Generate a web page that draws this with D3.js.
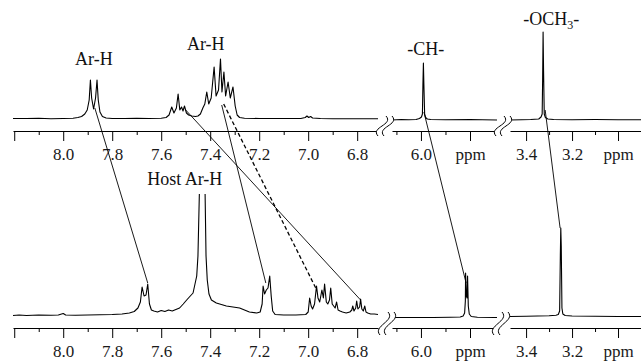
<!DOCTYPE html>
<html>
<head>
<meta charset="utf-8">
<script src="https://cdn.jsdelivr.net/npm/d3@7"></script>
<style>
  html, body { margin: 0; padding: 0; background: #fff; }
  svg { display: block; }
  svg text { font-family: "Liberation Serif", "Times New Roman", serif; }
</style>
</head>
<body>
<svg id="chart" width="641" height="363"></svg>
<script>
// ppm windows of the three broken-axis segments
const segDomains = [[8.205, 6.715], [6.118, 5.69], [3.47, 2.9]];

// tick values / labels per segment
const majorTicks = [[8.2, 8.0, 7.8, 7.6, 7.4, 7.2, 7.0, 6.8], [6.0, 5.8], [3.4, 3.2, 3.0]];
const minorTicks = [[8.1, 7.9, 7.7, 7.5, 7.3, 7.1, 6.9], [6.1, 5.9], [3.3, 3.1, 2.9]];
const tickLabels = [
  ["", "8.0", "7.8", "7.6", "7.4", "7.2", "7.0", "6.8"],
  ["6.0", "ppm"],
  ["3.4", "3.2", "ppm"]
];

// top spectrum (guest alone): [ppm, intensity]
const topSeg1 = [
  [8.205, 1.5], [8.15, 1.5], [8.10, 1.8], [8.05, 1.3], [8.0, 1.5], [7.96, 1.8], [7.94, 2.5], [7.925, 3.5],
  [7.912, 6], [7.902, 10], [7.894, 20], [7.889, 40], [7.884, 22], [7.876, 11], [7.868, 22], [7.862, 40],
  [7.857, 20], [7.85, 8], [7.84, 3.5], [7.825, 2], [7.80, 1.5], [7.75, 1.5], [7.70, 1.8], [7.65, 1.5],
  [7.60, 1.8], [7.58, 2.5], [7.568, 5], [7.557, 13], [7.548, 7], [7.538, 12], [7.531, 26], [7.524, 10],
  [7.517, 13], [7.511, 9], [7.505, 14], [7.497, 7], [7.488, 5], [7.475, 4], [7.46, 3.5], [7.45, 4],
  [7.44, 6], [7.43, 12], [7.422, 16], [7.414, 28], [7.406, 16], [7.396, 22], [7.384, 53], [7.376, 24],
  [7.366, 30], [7.358, 61], [7.352, 28], [7.344, 48], [7.337, 24], [7.327, 38], [7.318, 22], [7.307, 33],
  [7.298, 14], [7.29, 5], [7.28, 2.5], [7.26, 1.8], [7.2, 1.5], [7.1, 1.5], [7.03, 1.5], [7.012, 2.5],
  [7.005, 4], [6.998, 2.5], [6.99, 3.5], [6.982, 2], [6.95, 1.5], [6.9, 1.2], [6.8, 1.2], [6.715, 1.2]
];
const topSeg2 = [
  [6.118, 0], [6.08, 0.5], [6.05, 0.3], [6.02, 0.5], [6.006, 1.5], [5.998, 3], [5.994, 6], [5.992, 35],
  [5.99, 57], [5.988, 35], [5.985, 6], [5.981, 2.5], [5.974, 1], [5.96, 0.5], [5.9, 0.3], [5.8, 0.5],
  [5.75, 0.3], [5.69, 0]
];
const topSeg3 = [
  [3.47, 0], [3.42, 0.3], [3.38, 0.5], [3.345, 1], [3.335, 3], [3.33, 6], [3.328, 40], [3.326, 88],
  [3.324, 50], [3.321, 6], [3.316, 2.5], [3.305, 1], [3.28, 0.5], [3.2, 0.3], [3.1, 0.5], [3.0, 0.3], [2.9, 0.3]
];

// bottom spectrum (host-guest complex)
const botSeg1 = [
  [8.205, 0.5], [8.18, 1], [8.15, 0.5], [8.1, 1], [8.05, 0.8], [8.02, 1], [8.0, 2.5], [7.99, 1],
  [7.95, 0.8], [7.9, 1], [7.85, 1.2], [7.8, 1.5], [7.76, 2], [7.73, 3], [7.71, 4.5], [7.695, 8],
  [7.685, 14], [7.678, 29], [7.67, 20], [7.662, 21], [7.655, 32], [7.648, 12], [7.64, 6], [7.63, 5],
  [7.615, 4], [7.6, 5.5], [7.585, 4.5], [7.57, 6], [7.555, 5], [7.54, 6.5], [7.525, 8], [7.51, 12],
  [7.496, 16], [7.485, 19], [7.47, 23], [7.455, 40], [7.45, 60], [7.444, 125], [7.436, 300], [7.43, 300],
  [7.421, 125], [7.417, 60], [7.412, 36], [7.405, 22], [7.395, 16], [7.375, 13], [7.334, 10], [7.28, 8],
  [7.24, 4], [7.21, 3], [7.196, 4], [7.188, 12], [7.184, 30], [7.178, 22], [7.171, 26], [7.164, 28],
  [7.157, 40], [7.151, 20], [7.145, 5], [7.135, 1.5], [7.1, 1], [7.05, 1], [7.01, 1.5], [7.0, 4],
  [6.994, 18], [6.988, 10], [6.982, 7], [6.974, 12], [6.966, 30], [6.96, 18], [6.953, 14], [6.944, 26],
  [6.938, 18], [6.933, 32], [6.926, 14], [6.92, 12], [6.913, 16], [6.908, 28], [6.902, 12], [6.896, 10],
  [6.89, 8], [6.884, 14], [6.878, 6], [6.87, 5], [6.86, 4], [6.845, 3], [6.83, 4], [6.822, 6],
  [6.818, 10], [6.813, 5], [6.806, 8], [6.802, 15], [6.797, 7], [6.79, 9], [6.786, 17], [6.781, 7],
  [6.775, 5], [6.769, 10], [6.764, 4], [6.757, 3], [6.745, 2], [6.73, 2], [6.715, 1.5]
];
const botSeg2 = [
  [6.118, -1.5], [6.05, -1.5], [5.95, -1.5], [5.88, -1.3], [5.84, -1], [5.828, 0], [5.822, 3], [5.819, 15],
  [5.818, 43], [5.815, 20], [5.812, 18], [5.81, 40], [5.807, 10], [5.803, 2], [5.795, -0.5], [5.77, -1.3],
  [5.7, -1.5], [5.69, -1.5]
];
const botSeg3 = [
  [3.47, -0.5], [3.4, -0.3], [3.35, 0], [3.3, 0.3], [3.27, 0.8], [3.26, 1.5], [3.254, 5], [3.251, 60],
  [3.249, 88], [3.247, 70], [3.244, 8], [3.24, 2], [3.23, 0.5], [3.2, 0], [3.1, -0.3], [3.0, -0.5], [2.9, -0.5]
];

// correlation lines: segment index, top [ppm, int] -> bottom [ppm, int]
const links = [
  { seg: 0, top: [7.871, 12], bot: [7.655, 33], dashed: false },
  { seg: 0, top: [7.500, 10], bot: [6.786, 16], dashed: false },
  { seg: 0, top: [7.353, 15], bot: [7.173, 33], dashed: false },
  { seg: 0, top: [7.345, 16], bot: [6.965, 26], dashed: true },
  { seg: 1, top: [5.988, 8], bot: [5.816, 33], dashed: false },
  { seg: 2, top: [3.317, 10], bot: [3.252, 88], dashed: false }
];

// peak labels: panel, segment, ppm, intensity
const peakLabels = [
  { text: "Ar-H", panel: "top", seg: 0, ppm: 7.875, val: 55 },
  { text: "Ar-H", panel: "top", seg: 0, ppm: 7.418, val: 70 },
  { text: "-CH-", panel: "top", seg: 1, ppm: 5.98, val: 65 },
  { text: "-OCH3-", panel: "top", seg: 2, ppm: 3.29, val: 95 },
  { text: "Host Ar-H", panel: "bot", seg: 0, ppm: 7.504, val: 131 }
];

const svg = d3.select("#chart");
const serif = '"Liberation Serif", "Times New Roman", serif';
const segRanges = [[13, 378], [392, 497], [510, 641]];
const xs = segDomains.map((d, i) => d3.scaleLinear().domain(d).range(segRanges[i]));

const panels = {
  top: { y: d3.scaleLinear().domain([0, 100]).range([120, 20]), axisY: 131, series: [topSeg1, topSeg2, topSeg3], breaks: [382, 500], bT: 116, bB: 136 },
  bot: { y: d3.scaleLinear().domain([0, 100]).range([316, 216]), axisY: 328, series: [botSeg1, botSeg2, botSeg3], breaks: [384, 498], bT: 312, bB: 335 }
};

svg.append("clipPath").attr("id", "botclip")
  .append("rect").attr("x", 0).attr("y", 194).attr("width", 641).attr("height", 200);

Object.entries(panels).forEach(([key, p]) => {
  const g = svg.append("g");
  const spec = g.append("g");
  if (key === "bot") spec.attr("clip-path", "url(#botclip)");
  p.series.forEach((data, i) => {
    const line = d3.line().x(d => xs[i](d[0])).y(d => p.y(d[1]));
    spec.append("path").datum(data)
      .attr("d", line)
      .attr("fill", "none")
      .attr("stroke", "#000")
      .attr("stroke-width", 1.1)
      .attr("stroke-linejoin", "round");
  });

  xs.forEach((x, i) => {
    const minor = g.append("g").attr("transform", `translate(0,${p.axisY})`)
      .call(d3.axisBottom(x).tickValues(minorTicks[i]).tickSize(4).tickSizeOuter(0).tickFormat(""));
    minor.select(".domain").remove();
    const major = g.append("g").attr("transform", `translate(0,${p.axisY})`)
      .call(d3.axisBottom(x).tickValues(majorTicks[i]).tickSize(10).tickSizeOuter(0).tickPadding(7)
        .tickFormat((d, j) => tickLabels[i][j]));
    major.selectAll("text")
      .style("font-family", serif)
      .style("font-size", "17px")
      .attr("fill", "#1a1a1a");
    g.selectAll(".tick line, .domain").attr("stroke", "#000").attr("stroke-width", 1);
  });

  p.breaks.forEach(cx => {
    const gap = 6, yT = p.bT, yB = p.bB;
    const c = o => [[cx - 4 + o, yB], [cx - 12 + o, yB - 9], [cx + 12 + o, yT + 9], [cx + 4 + o, yT]];
    const a = c(0), b = c(gap);
    g.append("path")
      .attr("d", `M${a[0]}C${a[1]} ${a[2]} ${a[3]}L${b[3]}C${b[2]} ${b[1]} ${b[0]}Z`)
      .attr("fill", "#fff");
    [a, b].forEach(q => g.append("path")
      .attr("d", `M${q[0]}C${q[1]} ${q[2]} ${q[3]}`)
      .attr("fill", "none").attr("stroke", "#000").attr("stroke-width", 1));
  });
});

// correlation lines
links.forEach(l => {
  const x = xs[l.seg];
  svg.append("line")
    .attr("x1", x(l.top[0])).attr("y1", panels.top.y(l.top[1]))
    .attr("x2", x(l.bot[0])).attr("y2", panels.bot.y(l.bot[1]))
    .attr("stroke", "#000")
    .attr("stroke-width", l.dashed ? 1.3 : 0.9)
    .attr("stroke-dasharray", l.dashed ? "4,2.5" : null);
});

// peak labels
peakLabels.forEach(l => {
  const p = panels[l.panel];
  const t = svg.append("text")
    .attr("x", xs[l.seg](l.ppm))
    .attr("y", p.y(l.val))
    .attr("text-anchor", "middle")
    .style("font-family", serif)
    .style("font-size", "18px")
    .attr("fill", "#111");
  const m = l.text.match(/^(.*?)(\d)(-?)$/);
  if (m) {
    t.append("tspan").text(m[1]);
    t.append("tspan").attr("dy", 4).style("font-size", "12px").text(m[2]);
    t.append("tspan").attr("dy", -4).text(m[3]);
  } else {
    t.text(l.text);
  }
});
</script>
</body>
</html>
